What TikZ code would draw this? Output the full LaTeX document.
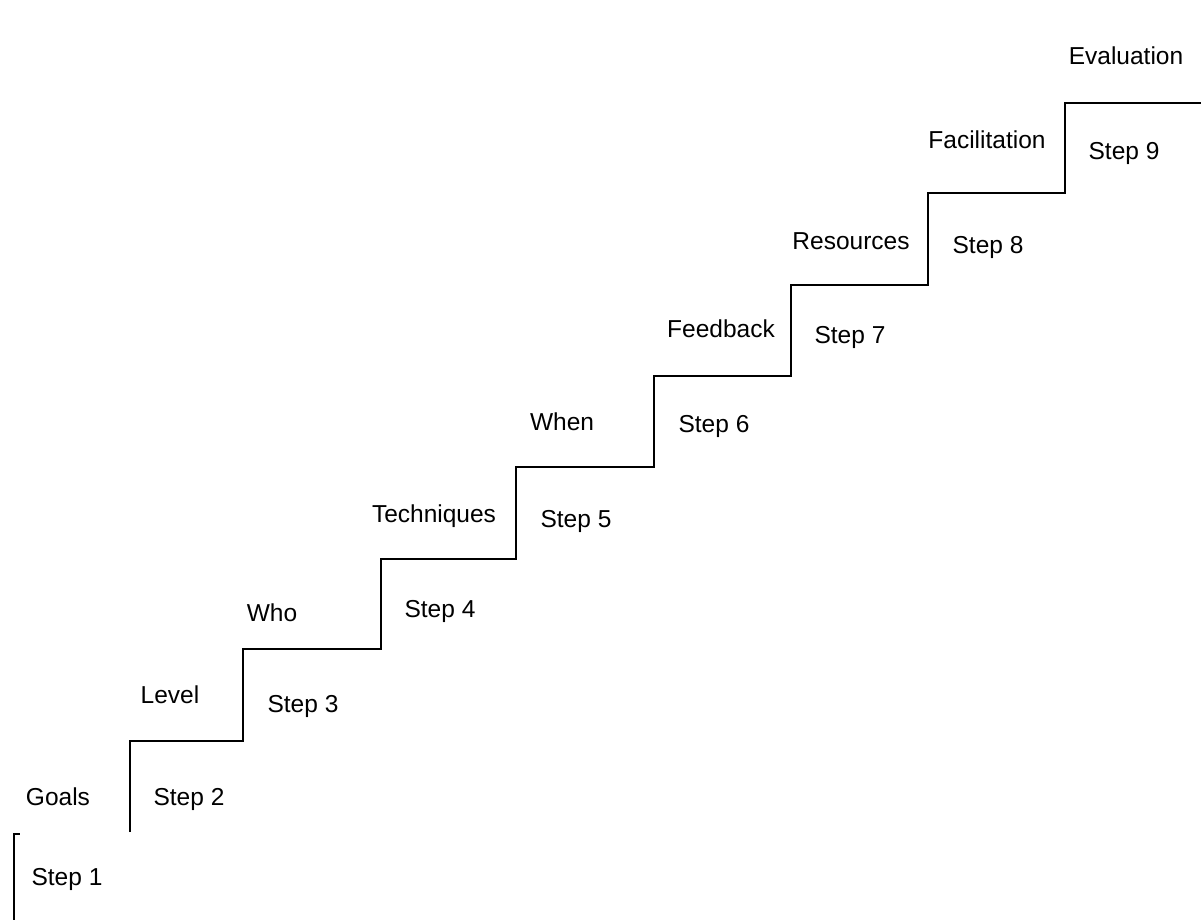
\documentclass[tikz,border=0pt]{standalone}
\usepackage{fontspec}
\setmainfont{Liberation Sans}
\begin{document}
\begin{tikzpicture}[x=1pt,y=-1pt,
  label/.style={anchor=base,inner sep=0pt,font=\fontsize{24.5}{29}\selectfont},
  stair/.style={line width=1.4pt,line join=miter}]
\useasboundingbox (0,0) rectangle (1201,920);

% first step edge
\draw[line width=2pt] (13.5,920) -- (13.5,833.5) -- (20,833.5);
% rising staircase
\draw[stair] (130,832) -- (130,741) -- (243,741) -- (243,649) -- (381,649)
  -- (381,559) -- (516,559) -- (516,467) -- (654,467) -- (654,376)
  -- (791,376) -- (791,285) -- (928,285) -- (928,193) -- (1065,193)
  -- (1065,103) -- (1201,103);
\draw[line width=2pt] (130,741) -- (130,762);

% step numbers
\node[label] (s1) at (67,885) {Step 1};
\node[label] (s2) at (189,805) {Step 2};
\node[label] (s3) at (303,712) {Step 3};
\node[label] (s4) at (440,617) {Step 4};
\node[label] (s5) at (576,527) {Step 5};
\node[label] (s6) at (714,432) {Step 6};
\node[label] (s7) at (850,343) {Step 7};
\node[label] (s8) at (988,253) {Step 8};
\node[label] (s9) at (1124,160) {Step 9};

% step topics
\node[label] (t1) at (58,805) {Goals};
\node[label] (t2) at (170,703) {Level};
\node[label] (t3) at (272,621) {Who};
\node[label] (t4) at (434,522) {Techniques};
\node[label] (t5) at (562,430) {When};
\node[label] (t6) at (721,337) {Feedback};
\node[label] (t7) at (851,249) {Resources};
\node[label] (t8) at (987,149) {Facilitation};
\node[label] (t9) at (1126,65) {Evaluation};
\end{tikzpicture}
\end{document}
